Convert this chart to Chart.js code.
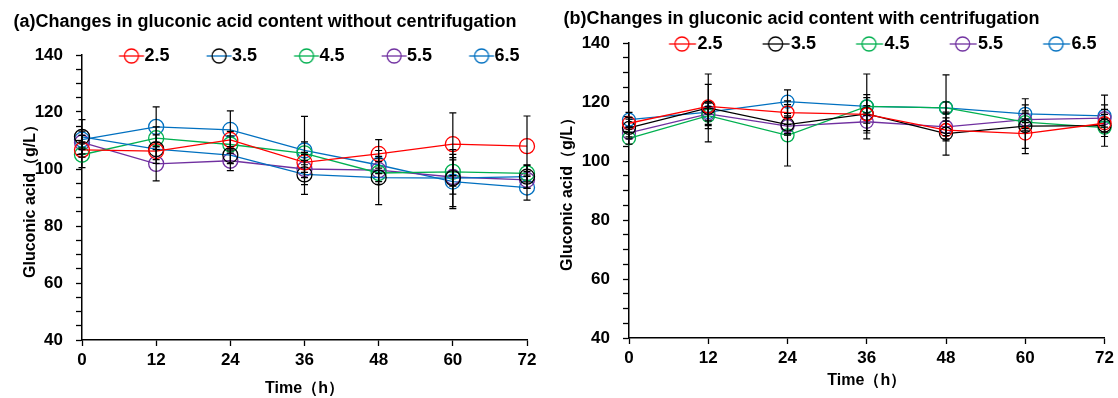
<!DOCTYPE html>
<html>
<head>
<meta charset="utf-8">
<script src="https://cdn.jsdelivr.net/npm/chart.js@4.4.1/dist/chart.umd.min.js"></script>
<style>
  html, body { margin: 0; padding: 0; background: #fff; }
  #wrap { position: relative; width: 1118px; height: 398px; }
  .box { position: absolute; top: 0; height: 398px; }
  #boxA { left: 0; width: 555px; }
  #boxB { left: 555px; width: 563px; }
</style>
</head>
<body>
<div id="wrap">
  <div class="box" id="boxA"><canvas id="chartA"></canvas></div>
  <div class="box" id="boxB"><canvas id="chartB"></canvas></div>
</div>
<script>
// time points (h) and series names
const hours = [0, 12, 24, 36, 48, 60, 72];
const seriesNames = ['2.5', '3.5', '4.5', '5.5', '6.5'];
const markerColors = ['#FF0000', '#000000', '#00B050', '#7030A0', '#0070C0'];
const lineColorsA = ['#FF0000', '#0070C0', '#00B050', '#7030A0', '#0070C0'];
const lineColorsB = ['#FF0000', '#000000', '#00B050', '#7030A0', '#0070C0'];
const yTickLabels = [40, 60, 80, 100, 120, 140];

// (a) without centrifugation
const valuesA25 = [106.7, 106.3, 110.2, 102.3, 105.3, 108.7, 108.0];
const valuesA35 = [111.3, 107.0, 104.9, 98.1, 97.0, 96.8, 97.3];
const valuesA45 = [105.0, 110.8, 108.6, 105.5, 98.6, 99.0, 98.5];
const valuesA55 = [109.3, 101.8, 102.9, 100.0, 99.6, 97.2, 96.2];
const valuesA65 = [110.3, 114.8, 113.7, 106.5, 101.4, 95.6, 93.5];
const errorsA25 = [2.5, 3, 3, 3.5, 5, 11, 10.6];
const errorsA35 = [6, 5, 3, 7, 9.5, 10, 4];
const errorsA45 = [4.5, 4, 3, 4, 4, 5, 3];
const errorsA55 = [2.5, 6, 3.5, 3, 4, 6, 3];
const errorsA65 = [3, 7, 6.7, 12, 3, 9.5, 4.4];

// (b) with centrifugation
const valuesB25 = [112.8, 118.5, 116.4, 115.8, 110.5, 109.3, 112.8];
const valuesB35 = [111.2, 118.0, 112.3, 116.0, 109.3, 111.8, 112.0];
const valuesB45 = [107.7, 115.4, 108.7, 118.5, 118.0, 113.2, 111.3];
const valuesB55 = [109.5, 116.0, 111.8, 113.3, 111.6, 114.0, 114.5];
const valuesB65 = [114.0, 116.6, 120.1, 118.5, 118.0, 116.0, 115.3];
const errorsB25 = [2, 7.5, 4, 3, 3, 5, 3];
const errorsB35 = [3, 11.5, 3, 6.5, 7.3, 9.3, 7];
const errorsB45 = [2, 3, 10.4, 11, 11.2, 3, 3];
const errorsB55 = [2, 4, 3, 3, 3, 3, 3];
const errorsB65 = [2.5, 3, 4, 3, 2, 3, 7];

Chart.defaults.font.family = "'Liberation Sans', Arial, sans-serif";
Chart.defaults.color = '#000';

function pts(vals) {
  return vals.map((v, i) => ({ x: hours[i], y: v }));
}

// legend marker: short line with a hollow circle
function legendIcon(lineColor, markColor, bw, a, b, c, r) {
  const half = Math.max(b - bw / 2, bw / 2 - a) + 2;
  const cv = document.createElement('canvas');
  cv.width = Math.ceil(half * 2);
  cv.height = 20;
  const left = bw / 2 - cv.width / 2;
  const g = cv.getContext('2d');
  g.lineWidth = 1.3;
  g.strokeStyle = lineColor;
  g.beginPath(); g.moveTo(a - left, 10); g.lineTo(b - left, 10); g.stroke();
  g.strokeStyle = markColor;
  g.beginPath(); g.arc(c - left, 10, r, 0, Math.PI * 2); g.stroke();
  return cv;
}

const errorBars = {
  id: 'errorBars',
  afterDatasetsDraw(chart) {
    const ctx = chart.ctx;
    const xs = chart.scales.x, ys = chart.scales.y;
    ctx.save();
    ctx.strokeStyle = '#000';
    ctx.lineWidth = 1.2;
    chart.data.datasets.forEach(ds => {
      ds.data.forEach((p, i) => {
        const e = ds.errors[i];
        const px = xs.getPixelForValue(p.x);
        const t = ys.getPixelForValue(p.y + e);
        const b = ys.getPixelForValue(p.y - e);
        ctx.beginPath();
        ctx.moveTo(px, t); ctx.lineTo(px, b);
        ctx.moveTo(px - 3.5, t); ctx.lineTo(px + 3.5, t);
        ctx.moveTo(px - 3.5, b); ctx.lineTo(px + 3.5, b);
        ctx.stroke();
      });
    });
    ctx.restore();
  }
};

function makeChart(id, s) {
  // legend sits partly inside the plot area, so shrink its box and skip clipping
  const legendFix = {
    id: 'legendFix',
    beforeInit(chart) {
      const fit = chart.legend.fit;
      chart.legend.fit = function () {
        fit.call(this);
        this.height = s.legendHeight;
      };
      chart.legend.draw = function () {
        if (this.options.display) this._draw();
      };
    }
  };
  const datasets = s.values.map((vals, i) => ({
    label: seriesNames[i],
    data: pts(vals),
    errors: s.errors[i],
    borderColor: s.lineColors[i],
    borderWidth: 1.3,
    pointBorderColor: markerColors[i],
    pointBackgroundColor: 'rgba(0,0,0,0)',
    pointRadius: s.pointRadius,
    pointBorderWidth: 1.3,
    pointHoverRadius: s.pointRadius,
    tension: 0,
    clip: false
  }));
  return new Chart(document.getElementById(id), {
    type: 'line',
    data: { datasets },
    options: {
      responsive: true,
      maintainAspectRatio: false,
      animation: false,
      layout: { padding: { left: s.padLeft, right: s.padRight, top: 0, bottom: 0 } },
      plugins: {
        title: {
          display: true,
          text: s.title,
          align: 'start',
          color: '#000',
          font: { size: 18, weight: 'bold', lineHeight: 1.2 },
          padding: { top: s.titleTop, bottom: s.titleBottom }
        },
        legend: {
          display: true,
          position: 'top',
          align: 'start',
          fullSize: false,
          labels: {
            usePointStyle: true,
            pointStyleWidth: s.boxW,
            padding: 5,
            color: '#000',
            font: { size: 18, weight: 'bold' },
            generateLabels(chart) {
              return chart.data.datasets.map((ds, i) => ({
                text: ds.label,
                pointStyle: legendIcon(s.lineColors[i], markerColors[i], s.boxW, s.icon[0], s.icon[1], s.icon[2], 7),
                fillStyle: 'rgba(0,0,0,0)',
                strokeStyle: markerColors[i],
                lineWidth: 0,
                fontColor: '#000',
                hidden: false,
                datasetIndex: i
              }));
            }
          }
        },
        tooltip: { enabled: false }
      },
      scales: {
        x: {
          type: 'linear',
          min: 0,
          max: 72,
          ticks: { stepSize: 12, color: '#000', font: { size: 17, weight: 'bold' }, padding: 4, maxRotation: 0 },
          grid: { drawOnChartArea: false, drawTicks: true, tickLength: 6, tickColor: '#000', tickWidth: 1.3 },
          border: { display: true, color: '#000', width: 1.5 },
          title: {
            display: true,
            text: 'Time（h）',
            color: '#000',
            font: { size: 16, weight: 'bold', lineHeight: 1 },
            padding: { top: 0, bottom: s.xTitleBottom }
          },
          afterFit(scale) { scale.height = s.xHeight; }
        },
        y: {
          min: 40,
          max: 140,
          ticks: {
            stepSize: 5,
            color: '#000',
            font: { size: 17, weight: 'bold' },
            padding: 13,
            autoSkip: false,
            callback: (v) => yTickLabels.includes(v) ? String(v) : ''
          },
          grid: { drawOnChartArea: false, drawTicks: true, tickLength: 6, tickColor: '#000', tickWidth: 1.3 },
          border: { display: true, color: '#000', width: 1.5 },
          title: {
            display: true,
            text: 'Gluconic acid（g/L）',
            color: '#000',
            font: { size: 16, weight: 'bold', lineHeight: 1 },
            padding: { top: s.yTitleTop, bottom: 0 }
          },
          afterFit(scale) { scale.width = s.yWidth; }
        }
      }
    },
    plugins: [legendFix, errorBars]
  });
}

makeChart('chartA', {
  title: '(a)Changes in gluconic acid content without centrifugation',
  values: [valuesA25, valuesA35, valuesA45, valuesA55, valuesA65],
  errors: [errorsA25, errorsA35, errorsA45, errorsA55, errorsA65],
  lineColors: lineColorsA,
  pointRadius: 7.5,
  padLeft: 13.6, padRight: 28,
  titleTop: 11.2, titleBottom: 9.2,
  legendHeight: 13,
  boxW: 48.5, icon: [32, 57, 44.5],
  yWidth: 68.4, yTitleTop: 9.4,
  xHeight: 58, xTitleBottom: 1
});

makeChart('chartB', {
  title: '(b)Changes in gluconic acid content with centrifugation',
  values: [valuesB25, valuesB35, valuesB45, valuesB55, valuesB65],
  errors: [errorsB25, errorsB35, errorsB45, errorsB55, errorsB65],
  lineColors: lineColorsB,
  pointRadius: 6.5,
  padLeft: 8.6, padRight: 11,
  titleTop: 8.4, titleBottom: 0,
  legendHeight: 13,
  boxW: 54.5, icon: [35, 62, 48],
  yWidth: 65.4, yTitleTop: -3.6,
  xHeight: 60, xTitleBottom: 9
});
</script>
</body>
</html>
